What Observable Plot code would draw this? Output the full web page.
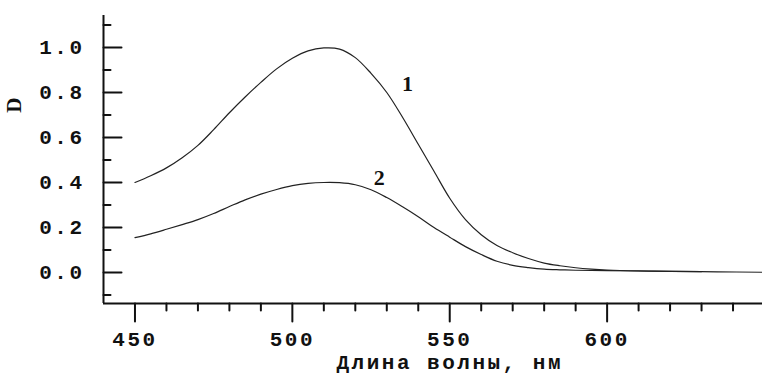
<!DOCTYPE html>
<html><head><meta charset="utf-8">
<script src="https://cdn.jsdelivr.net/npm/d3@7"></script>
<script src="https://cdn.jsdelivr.net/npm/@observablehq/plot@0.6"></script>
<style>body{margin:0;background:#fff} svg{display:block}</style>
</head><body><div id="chart"></div>
<script>
// Curve 1
const wavelength1 = [450, 455, 460, 465, 470, 475, 480, 485, 490, 495, 500, 505, 510, 515, 520, 525, 530, 535, 540, 545, 550, 555, 560, 565, 570, 575, 580, 585, 590, 595, 600, 610, 620, 635, 650];
const absorbance1 = [0.40, 0.43, 0.465, 0.51, 0.565, 0.635, 0.71, 0.78, 0.845, 0.905, 0.952, 0.985, 0.998, 0.993, 0.955, 0.885, 0.80, 0.69, 0.57, 0.45, 0.33, 0.235, 0.168, 0.12, 0.088, 0.062, 0.042, 0.030, 0.021, 0.015, 0.011, 0.007, 0.005, 0.003, 0.001];
// Curve 2
const wavelength2 = [450, 455, 460, 465, 470, 475, 480, 485, 490, 495, 500, 505, 510, 515, 520, 525, 530, 535, 540, 545, 550, 555, 560, 565, 570, 575, 580, 585, 590, 600, 615, 630];
const absorbance2 = [0.155, 0.172, 0.192, 0.213, 0.235, 0.262, 0.293, 0.323, 0.348, 0.369, 0.386, 0.396, 0.400, 0.399, 0.390, 0.368, 0.333, 0.292, 0.248, 0.200, 0.157, 0.115, 0.080, 0.050, 0.032, 0.022, 0.015, 0.012, 0.010, 0.008, 0.006, 0.004];
// Curve labels
const curveLabels = ["1", "2"];
const labelX = [537, 528];
const labelY = [0.84, 0.42];
// Axes
const xDomain = [440, 650];
const yDomain = [-0.1378, 1.1422];
const majorX = [450, 500, 550, 600, 650];
const minorX = [460, 470, 480, 490, 510, 520, 530, 540, 560, 570, 580, 590, 610, 620, 630, 640];
const xTickLabels = [450, 500, 550, 600];
const majorY = [0, 0.2, 0.4, 0.6, 0.8, 1.0];
const minorY = [-0.1, 0.1, 0.3, 0.5, 0.7, 0.9, 1.1];
const xTitle = ["Длина волны, нм"];
const xTitleAt = [550];
const yTitle = ["D"];
const yTitleAt = [0.71];

const s1 = wavelength1.map((w, i) => ({w, d: absorbance1[i]}));
const s2 = wavelength2.map((w, i) => ({w, d: absorbance2[i]}));
const ink = "#111";
// inward tick shape: a straight segment from the axis into the plot
const tickShape = {draw(context, l) { context.moveTo(0, 0); context.lineTo(0, l); }};

const chart = Plot.plot({
  width: 762, height: 374,
  marginLeft: 103, marginRight: -2, marginTop: 15, marginBottom: 71,
  style: {fontFamily: "'Liberation Mono', monospace", fontWeight: "bold", fontSize: "21px", color: ink, background: "#fff", letterSpacing: "2.5px"},
  x: {domain: xDomain},
  y: {domain: yDomain},
  marks: [
    Plot.vector(majorX, {x: d => d, frameAnchor: "bottom", length: 18, rotate: 0, anchor: "start", shape: tickShape, stroke: ink, strokeWidth: 2}),
    Plot.vector(minorX, {x: d => d, frameAnchor: "bottom", length: 7, rotate: 0, anchor: "start", shape: tickShape, stroke: ink, strokeWidth: 2}),
    Plot.vector(majorY, {y: d => d, frameAnchor: "left", length: 18, rotate: -90, anchor: "start", shape: tickShape, stroke: ink, strokeWidth: 2}),
    Plot.vector(minorY, {y: d => d, frameAnchor: "left", length: 7, rotate: -90, anchor: "start", shape: tickShape, stroke: ink, strokeWidth: 2}),
    Plot.axisX(xTickLabels, {tickSize: 0, tickPadding: 28, tickFormat: d => String(d), label: null}),
    Plot.axisY(majorY, {tickSize: 0, tickPadding: 19, tickFormat: d3.format(".1f"), label: null}),
    Plot.ruleX([xDomain[0]], {stroke: ink, strokeWidth: 2}),
    Plot.ruleY([yDomain[0]], {stroke: ink, strokeWidth: 2}),
    Plot.line(s1, {x: "w", y: "d", curve: "catmull-rom", stroke: "#222", strokeWidth: 1.2}),
    Plot.line(s2, {x: "w", y: "d", curve: "catmull-rom", stroke: "#222", strokeWidth: 1.2}),
    Plot.text(curveLabels, {x: labelX, y: labelY, text: d => d, fontFamily: "'Liberation Serif', serif", fontSize: 22, fontWeight: "bold", fill: ink}),
    Plot.text(xTitle, {x: xTitleAt, frameAnchor: "bottom", dy: 65, text: d => d, fill: ink, style: "letter-spacing:3.5px"}),
    Plot.text(yTitle, {y: yTitleAt, frameAnchor: "left", dx: -89, rotate: -90, text: d => d, fill: ink, fontFamily: "'Liberation Serif', serif"})
  ]
});
document.getElementById("chart").appendChild(chart);
</script>
</body></html>
